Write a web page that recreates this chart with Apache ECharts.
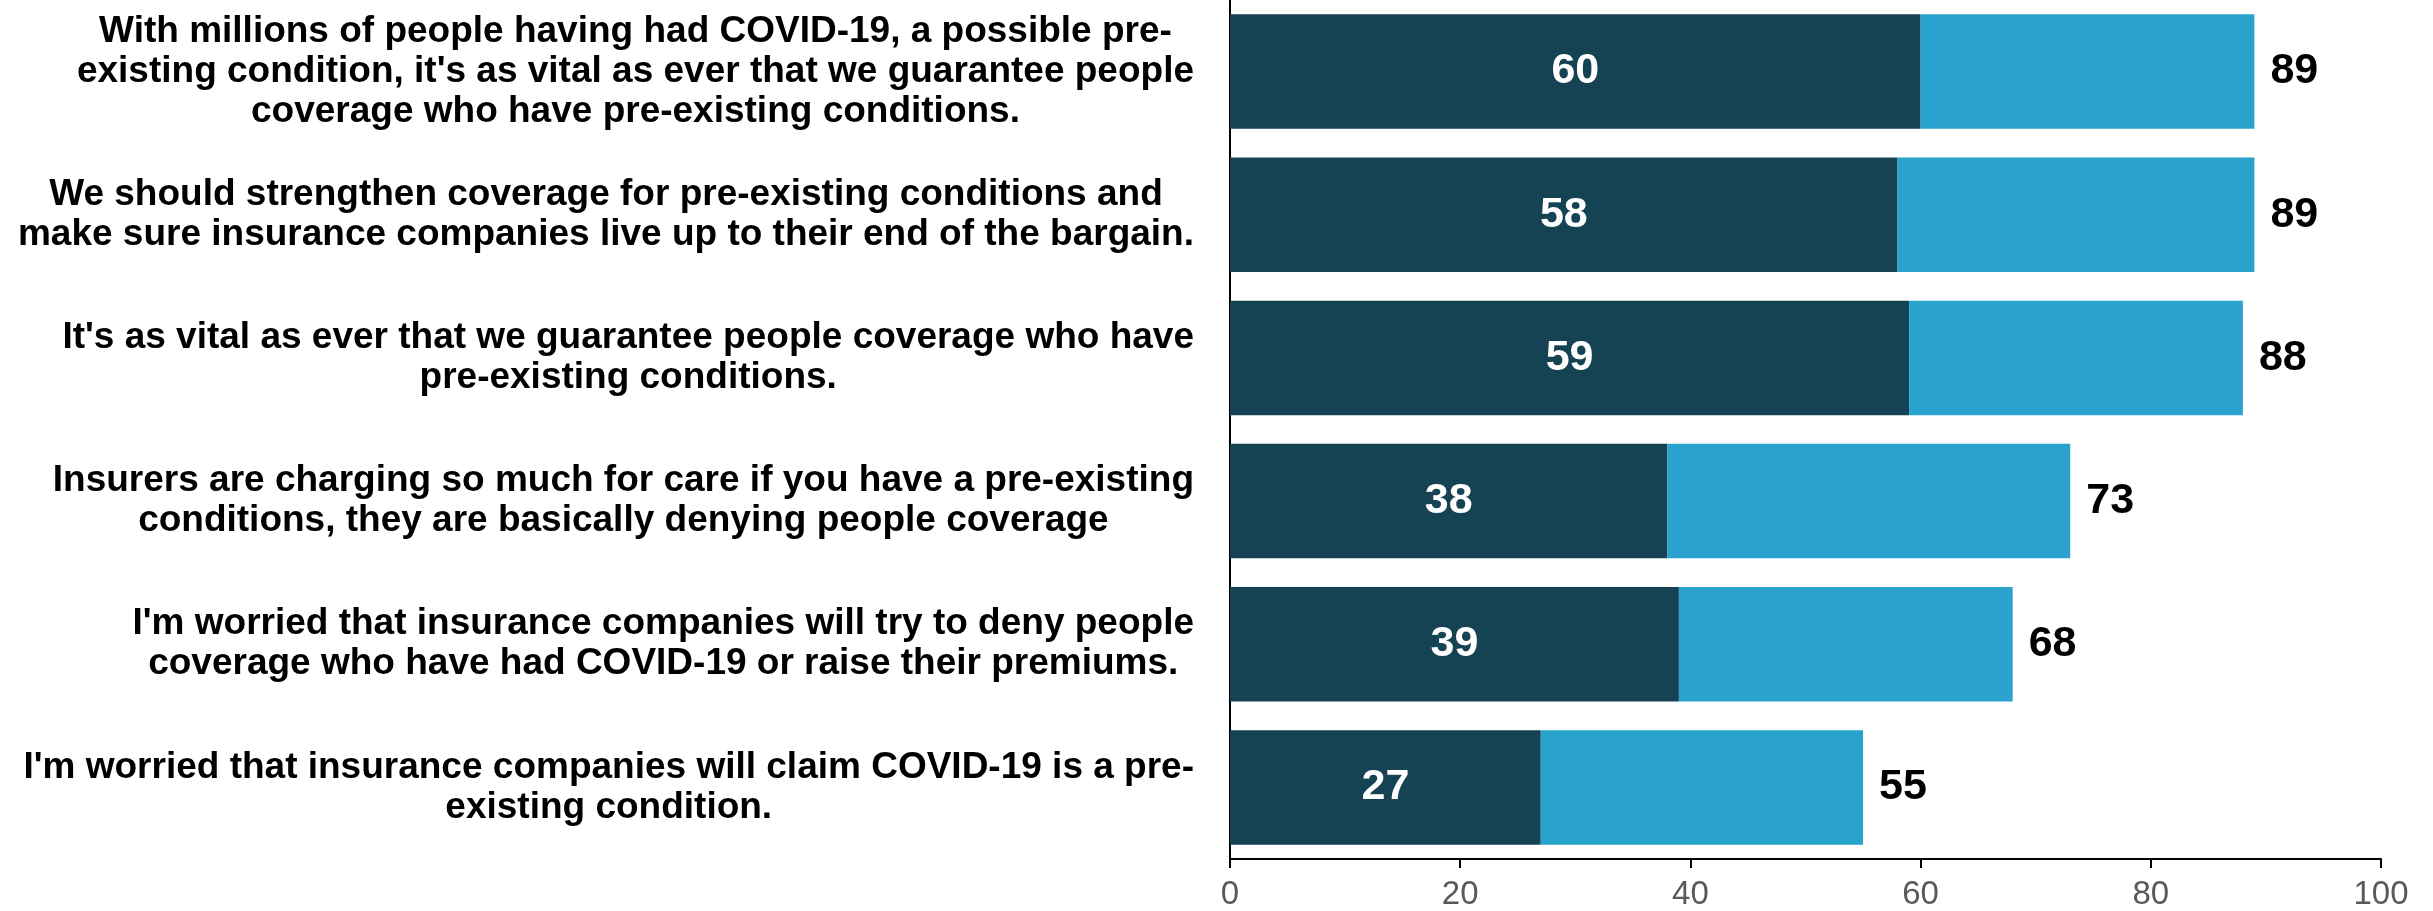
<!DOCTYPE html>
<html>
<head>
<meta charset="utf-8">
<script src="https://cdn.jsdelivr.net/npm/echarts@6/dist/echarts.min.js"></script>
<style>
  html, body { margin: 0; padding: 0; background: #ffffff; }
  #chart { width: 2433px; height: 911px; }
</style>
</head>
<body>
<div id="chart"></div>
<script>
// Survey statements (line breaks as laid out next to each bar)
const statements = [
  "With millions of people having had COVID-19, a possible pre-\nexisting condition, it's as vital as ever that we guarantee people\ncoverage who have pre-existing conditions.",
  "We should strengthen coverage for pre-existing conditions and\nmake sure insurance companies live up to their end of the bargain.",
  "It's as vital as ever that we guarantee people coverage who have\npre-existing conditions.",
  "Insurers are charging so much for care if you have a pre-existing\nconditions, they are basically denying people coverage",
  "I'm worried that insurance companies will try to deny people\ncoverage who have had COVID-19 or raise their premiums.",
  "I'm worried that insurance companies will claim COVID-19 is a pre-\nexisting condition."
];

// Strong agreement (dark segment) and total agreement (end of light segment)
const strongValues = [60, 58, 59, 38, 39, 27];
const totalValues = [89, 89, 88, 73, 68, 55];

// x axis ticks
const xTicks = [0, 20, 40, 60, 80, 100];

const FONT = '"Liberation Sans", Arial, Helvetica, sans-serif';

const chart = echarts.init(document.getElementById('chart'), null, { renderer: 'canvas' });

const option = {
  animation: false,
  backgroundColor: '#ffffff',
  grid: {
    left: 1230,
    right: 52,
    top: -6.5,
    bottom: 50,
    containLabel: false
  },
  xAxis: {
    type: 'value',
    min: xTicks[0],
    max: xTicks[xTicks.length - 1],
    interval: xTicks[1] - xTicks[0],
    splitLine: { show: false },
    axisLine: { show: true, onZero: false, lineStyle: { color: '#000000', width: 2 } },
    axisTick: { show: true, length: 9, lineStyle: { color: '#000000', width: 2 } },
    axisLabel: {
      color: '#595959',
      fontFamily: FONT,
      fontSize: 33,
      margin: 19
    }
  },
  yAxis: {
    type: 'category',
    inverse: true,
    data: statements,
    axisLine: { show: true, lineStyle: { color: '#000000', width: 2 } },
    axisTick: { show: false },
    axisLabel: {
      margin: 36,
      align: 'right',
      formatter: function (v) {
        return v.split('\n').map(function (l) { return '{c|' + l + '}'; }).join('\n');
      },
      rich: {
        c: {
          align: 'center',
          fontFamily: FONT,
          fontWeight: 'bold',
          fontSize: 37,
          lineHeight: 40,
          color: '#000000'
        }
      }
    }
  },
  series: [
    {
      name: 'Strong',
      type: 'bar',
      stack: 'agree',
      barCategoryGap: '20%',
      data: strongValues,
      itemStyle: { color: '#154354' },
      label: {
        show: true,
        position: 'inside',
        color: '#ffffff',
        fontFamily: FONT,
        fontWeight: 'bold',
        fontSize: 43
      }
    },
    {
      name: 'Total',
      type: 'bar',
      stack: 'agree',
      barCategoryGap: '20%',
      data: totalValues.map(function (t, i) { return t - strongValues[i]; }),
      itemStyle: { color: '#29A3CD' },
      label: {
        show: true,
        position: 'right',
        distance: 16,
        color: '#000000',
        fontFamily: FONT,
        fontWeight: 'bold',
        fontSize: 43,
        formatter: function (p) { return String(totalValues[p.dataIndex]); }
      }
    }
  ]
};

chart.setOption(option);
</script>
</body>
</html>
